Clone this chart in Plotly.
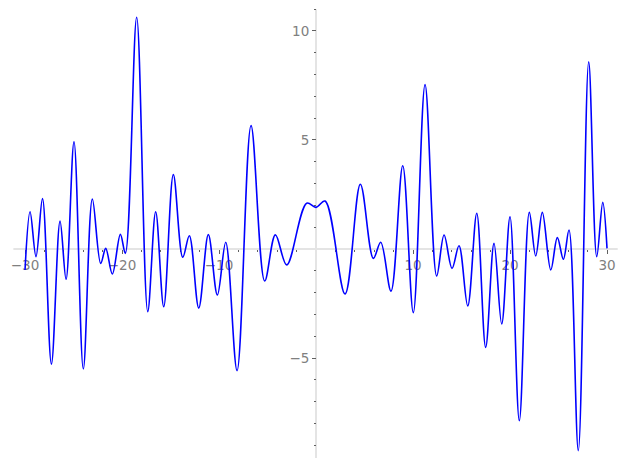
import plotly.graph_objects as go

# Curve samples (extrema and end points)
x_vals = [-30.0, -29.48, -28.87, -28.2, -27.28, -26.39, -25.77, -24.95, -23.99,
          -23.06, -22.2, -21.68, -21.0, -20.17, -19.66, -18.49, -17.35, -16.53, -15.7,
          -14.71, -13.74, -13.06, -12.09, -11.1, -10.17, -9.31, -8.14,
          -6.70, -5.29, -4.19, -3.02, -0.96, 0.0, 0.93,
          2.99, 4.57, 5.91, 6.67, 7.73, 8.94,
          10.03, 11.24, 12.44, 13.2, 14.02, 14.74, 15.64, 16.57,
          17.49, 18.35, 19.14, 20.0, 20.96, 21.99, 22.65, 23.33, 24.2, 24.88, 25.5,
          26.08, 27.04, 28.11, 28.94, 29.56, 30.0]
y_vals = [-0.96, 1.71, -0.35, 2.31, -5.28, 1.28, -1.39, 4.92, -5.5,
          2.29, -0.66, 0.03, -1.15, 0.67, -0.2, 10.63, -2.87, 1.71, -2.65,
          3.41, -0.38, 0.61, -2.71, 0.66, -2.11, 0.31, -5.58,
          5.66, -1.47, 0.65, -0.73, 2.1, 1.91, 2.2,
          -2.06, 2.97, -0.43, 0.31, -1.93, 3.82,
          -2.92, 7.54, -1.24, 0.64, -0.89, 0.15, -2.61, 1.64,
          -4.51, 0.26, -3.44, 1.48, -7.87, 1.68, -0.32, 1.68, -0.96, 0.52, -0.47,
          0.87, -9.25, 8.58, -0.35, 2.14, 0.03]

x_ticks = [-30, -20, -10, 10, 20, 30]
x_tick_text = ["\u221230", "\u221220", "\u221210", "10", "20", "30"]
x_minor = [-28, -26, -24, -22, -18, -16, -14, -12, -8, -6, -4, -2,
           2, 4, 6, 8, 12, 14, 16, 18, 22, 24, 26, 28]
y_ticks = [-5, 5, 10]
y_tick_text = ["\u22125", "5", "10"]
y_minor = [-9, -8, -7, -6, -4, -3, -2, -1, 1, 2, 3, 4, 6, 7, 8, 9, 11]

fig = go.Figure()
fig.add_trace(go.Scatter(
    x=x_vals, y=y_vals, mode="lines",
    line=dict(color="#0000ff", width=1.6, shape="spline", smoothing=1.0),
    hoverinfo="skip", showlegend=False,
))

spine = dict(color="#e4e4e4", width=2)
fig.add_shape(type="line", x0=-31.2, x1=31.1, y0=0, y1=0, line=spine, layer="below")
fig.add_shape(type="line", x0=0, x1=0, y0=-9.59, y1=11.0, line=spine, layer="below")

tickfont = dict(family="DejaVu Sans", size=13.5, color="#808080")

fig.update_layout(
    width=627, height=469,
    margin=dict(l=0, r=0, t=0, b=0, autoexpand=False),
    paper_bgcolor="white", plot_bgcolor="white",
    xaxis=dict(
        range=[-32.58, 32.06], domain=[0, 1],
        anchor="free", position=0.4695, automargin=False,
        showgrid=False, zeroline=False, showline=False,
        tickmode="array", tickvals=x_ticks, ticktext=x_tick_text,
        ticks="outside", ticklen=4, tickwidth=1, tickcolor="#606060",
        tickfont=tickfont, layer="below traces",
        minor=dict(tickmode="array", tickvals=x_minor, ticks="outside",
                   ticklen=2, tickwidth=1, tickcolor="#606060", showgrid=False),
    ),
    yaxis=dict(
        range=[-10.09, 11.42], domain=[0, 1],
        anchor="free", position=0.504, automargin=False,
        showgrid=False, zeroline=False, showline=False,
        tickmode="array", tickvals=y_ticks, ticktext=y_tick_text,
        ticks="outside", ticklen=4, tickwidth=1, tickcolor="#606060",
        tickfont=tickfont, layer="below traces",
        minor=dict(tickmode="array", tickvals=y_minor, ticks="outside",
                   ticklen=2, tickwidth=1, tickcolor="#606060", showgrid=False),
    ),
)

fig.write_html(
    "out.html",
    config={"displayModeBar": False, "staticPlot": True},
    post_script="document.body.style.margin='0px';document.body.style.overflow='hidden';",
)
